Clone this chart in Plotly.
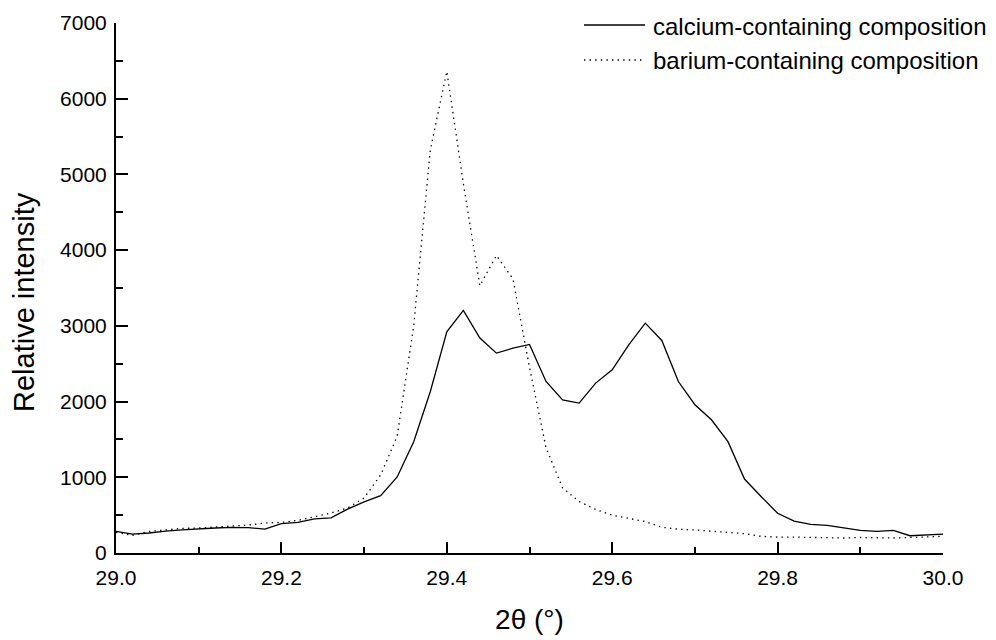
import plotly.graph_objects as go

# 2-theta scan positions (degrees), 0.02 step
two_theta = [round(29.0 + 0.02 * i, 2) for i in range(51)]

calcium = [285, 250, 264, 290, 305, 320, 330, 338, 335, 316,
           387, 404, 452, 465, 580, 675, 758, 1005, 1470, 2130,
           2920, 3205, 2840, 2640, 2705, 2755, 2265, 2023, 1980, 2244,
           2420, 2750, 3036, 2807, 2265, 1958, 1760, 1470, 977, 747,
           525, 420, 378, 365, 330, 300, 285, 298, 228, 242,
           250]

barium = [272, 233, 285, 308, 325, 330, 343, 360, 369, 396,
          404, 431, 484, 528, 594, 726, 1030, 1540, 3000, 5320,
          6360, 4880, 3530, 3930, 3620, 2450, 1390, 860, 680, 575,
          500, 455, 415, 340, 315, 305, 285, 270, 255, 220,
          210, 210, 205, 195, 198, 205, 198, 198, 205, 210,
          220]

series_names = ["calcium-containing composition", "barium-containing composition"]
x_ticks = [29.0, 29.2, 29.4, 29.6, 29.8, 30.0]
x_tick_text = ["29.0", "29.2", "29.4", "29.6", "29.8", "30.0"]
y_ticks = [0, 1000, 2000, 3000, 4000, 5000, 6000, 7000]

FONT = "Arial, 'Liberation Sans', Helvetica, sans-serif"
DOT = "1.4px,4.2px"

fig = go.Figure()
fig.add_trace(go.Scatter(x=two_theta, y=calcium, mode="lines", name=series_names[0],
                         line=dict(color="black", width=1.3), showlegend=False))
fig.add_trace(go.Scatter(x=two_theta, y=barium, mode="lines", name=series_names[1],
                         line=dict(color="black", width=1.3, dash=DOT), showlegend=False))

# Key and y-axis title placed in paper coordinates
L, R, T, B = 116, 53, 23, 87
W, H = 996, 640
pw, ph = W - L - R, H - T - B


def px_x(p):
    return (p - L) / pw


def px_y(p):
    return (H - B - p) / ph


rows = [(25, 26.5, None), (60, 60.5, DOT)]
for (line_y, text_y, dash), name in zip(rows, series_names):
    fig.add_shape(type="line", xref="paper", yref="paper",
                  x0=px_x(584), x1=px_x(645), y0=px_y(line_y), y1=px_y(line_y),
                  line=dict(color="black", width=1.3, dash=dash))
    fig.add_annotation(xref="paper", yref="paper", x=px_x(651), y=px_y(text_y),
                       xanchor="left", yanchor="middle", showarrow=False,
                       text=name, font=dict(family=FONT, size=24, color="black"))

fig.add_annotation(xref="paper", yref="paper", x=px_x(24), y=px_y(302),
                   xanchor="center", yanchor="middle", showarrow=False, textangle=-90,
                   text="Relative intensity", font=dict(family=FONT, size=29, color="black"))

fig.update_layout(
    width=W, height=H,
    margin=dict(l=L, r=R, t=T, b=B, autoexpand=False),
    paper_bgcolor="white", plot_bgcolor="white",
    font=dict(family=FONT, color="black"),
    showlegend=False,
)

fig.update_xaxes(
    range=[29.0, 30.0], tickvals=x_ticks, ticktext=x_tick_text,
    showline=True, linecolor="black", linewidth=2, mirror=False,
    ticks="inside", ticklen=11, tickwidth=2, tickcolor="black",
    minor=dict(dtick=0.1, tick0=29.0, ticks="inside", ticklen=6, tickwidth=2, tickcolor="black"),
    showgrid=False, zeroline=False,
    tickfont=dict(family=FONT, size=21, color="black"), ticklabelstandoff=5,
    title=dict(text="2θ (°)", font=dict(family=FONT, size=28, color="black"), standoff=21),
)
fig.update_yaxes(
    range=[0, 7000], tickvals=y_ticks,
    showline=True, linecolor="black", linewidth=2, mirror=False,
    ticks="inside", ticklen=12, tickwidth=2, tickcolor="black",
    minor=dict(dtick=500, tick0=0, ticks="inside", ticklen=7, tickwidth=2, tickcolor="black"),
    showgrid=False, zeroline=False,
    tickfont=dict(family=FONT, size=21, color="black"), ticklabelstandoff=3,
)

fig.write_html("out.html")
